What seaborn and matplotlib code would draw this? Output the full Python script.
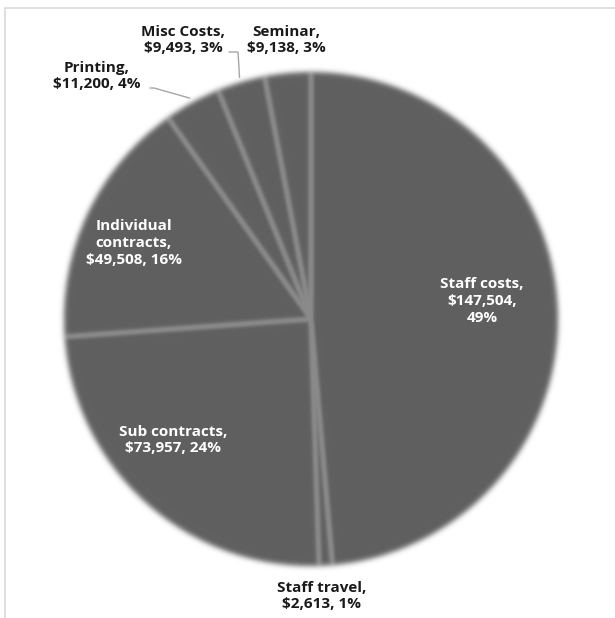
import numpy as np
import matplotlib
matplotlib.use("Agg")
import matplotlib.pyplot as plt
from matplotlib.patches import Rectangle
import seaborn as sns

# Budget breakdown by cost line
categories = ["Staff costs", "Staff travel", "Sub contracts", "Individual contracts",
              "Printing", "Misc Costs", "Seminar"]
amounts = [147504, 2613, 73957, 49508, 11200, 9493, 9138]

# How each label is broken over lines: name break, and break after the amount
name_lines = ["Staff costs", "Staff travel", "Sub contracts", "Individual\ncontracts",
              "Printing", "Misc Costs", "Seminar"]
break_after_amount = [True, False, False, False, False, False, False]

# Label placement (pixel centres on the 615x618 canvas) and whether the label sits on the pie
label_px = [(482, 301), (322, 596), (173, 440), (134, 243), (97, 76), (183, 40), (286, 40)]
inside = [True, False, True, True, False, False, False]
leader = [False, False, False, False, True, True, False]

W, H, DPI = 615, 618, 100
CX, CY, R = 311, 319, 247          # pie centre and radius in pixels

SLICE = "#5f5f5f"
SEPARATOR = "#8a8a8a"
LEADER = "#a6a6a6"
FRAME = "#d9d9d9"

sns.set_theme(style="white")
plt.rcParams["font.family"] = ["Open Sans", "DejaVu Sans"]


def _gauss_blur(arr, sigma):
    r = int(np.ceil(3 * sigma))
    x = np.arange(-r, r + 1)
    k = np.exp(-x ** 2 / (2 * sigma ** 2))
    k /= k.sum()
    out = arr
    for axis in (0, 1):
        acc = np.zeros_like(out)
        for off, w in zip(x, k):
            acc += w * np.roll(out, off, axis=axis)
        out = acc
    return out


class SoftEdge:
    """agg filter: gaussian blur on premultiplied RGBA."""

    def __init__(self, sigma):
        self.sigma = sigma

    def __call__(self, im, dpi):
        pad = int(np.ceil(3 * self.sigma)) + 2
        src = np.pad(im, ((pad, pad), (pad, pad), (0, 0)))
        a = src[..., 3:4]
        prem = np.concatenate([src[..., :3] * a, a], axis=2)
        b = _gauss_blur(prem, self.sigma)
        a2 = b[..., 3:4]
        rgb = np.where(a2 > 1e-6, b[..., :3] / np.maximum(a2, 1e-6), 0.0)
        out = np.clip(np.concatenate([rgb, a2], axis=2), 0, 1)
        return out, -pad, -pad


fig = plt.figure(figsize=(W / DPI, H / DPI), dpi=DPI)
fig.patch.set_facecolor("white")
ax = fig.add_axes([0, 0, 1, 1])
ax.axis("off")

wedges, _ = ax.pie(amounts, startangle=90, counterclock=False,
                   colors=[SLICE] * len(amounts), radius=1, center=(0, 0),
                   wedgeprops=dict(linewidth=0, edgecolor="none"))
ax.set_aspect("auto")
ax.set_xlim(-CX / R, (W - CX) / R)
ax.set_ylim(-(H - CY) / R, CY / R)

soft = SoftEdge(2.6)
for w in wedges:
    w.set_agg_filter(soft)

# radial separators along each slice boundary
sep_filter = SoftEdge(1.3)
for w in wedges:
    t = np.deg2rad(w.theta1)
    ln, = ax.plot([0, 0.985 * np.cos(t)], [0, 0.985 * np.sin(t)],
                  color=SEPARATOR, lw=1.7, solid_capstyle="butt", zorder=3)
    ln.set_agg_filter(sep_filter)

total = sum(amounts)
for i, (w, name, amt) in enumerate(zip(wedges, name_lines, amounts)):
    pct = round(100 * amt / total)
    sep = ",\n" if break_after_amount[i] else ", "
    text = f"{name},\n${amt:,}{sep}{pct}%"
    px, py = label_px[i]
    tx, ty = (px - CX) / R, (CY - py) / R
    ax.text(tx, ty, text, ha="center", va="center", fontsize=11,
            fontweight="bold", color="white" if inside[i] else "#1a1a1a",
            linespacing=1.25, zorder=5)
    if leader[i]:
        mid = np.deg2rad((w.theta1 + w.theta2) / 2)
        ex, ey = 1.02 * np.cos(mid), 1.02 * np.sin(mid)
        # start the leader just right of the amount line
        if name == "Printing":
            sx, sy = tx + 53 / R, ty - 12 / R
            ax.plot([sx, sx + 4 / R, ex], [sy, sy, ey], color=LEADER, lw=1.0, zorder=4)
        else:
            sx, sy = tx + 46 / R, ty - 12 / R
            ax.plot([sx, sx + 9 / R, ex], [sy, sy, ey], color=LEADER, lw=1.0, zorder=4)

# chart frame (only its top and left sides fall inside the canvas)
fig.add_artist(Rectangle((5 / W, -0.2), 1.5, 1.2 - 8 / H, transform=fig.transFigure,
                         fill=False, edgecolor=FRAME, linewidth=1.2))

fig.savefig("out.png", dpi=DPI, facecolor="white")
